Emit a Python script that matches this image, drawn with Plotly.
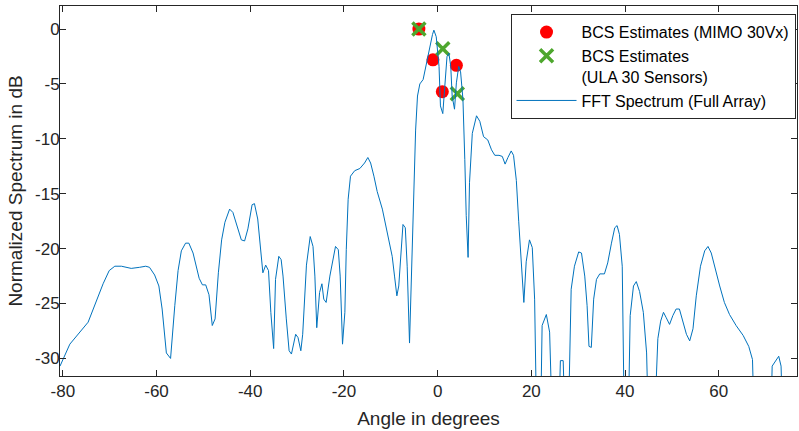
import plotly.graph_objects as go

# --- Data ---
# FFT spectrum of the full array (angle in degrees, normalized dB)
fft_angle = [
    -80.6, -78.5, -74.6, -73.1, -71.4, -70.1, -68.9, -67.5, -65.4, -63.6,
    -62.3, -61.5, -60.4, -59.5, -58.8, -57.9, -57.0, -56.1, -55.4, -54.7,
    -53.8, -53.1, -52.2, -50.9, -50.2, -49.5, -48.8, -48.1, -47.5, -46.8,
    -46.1, -45.4, -44.4, -43.7, -42.6, -41.9, -41.2, -40.5, -39.6, -39.1,
    -38.4, -37.8, -37.3, -36.7, -36.1, -35.6, -35.0, -34.6, -33.9, -33.4,
    -33.0, -32.3, -31.7, -31.2, -30.3, -29.8, -29.2, -28.8, -28.0, -27.2,
    -26.6, -26.2, -25.8, -25.2, -24.7, -24.3, -23.8, -23.0, -22.3, -21.8,
    -21.2, -20.8, -20.3, -19.8, -19.5, -19.1, -18.6, -17.7, -16.6, -15.6,
    -14.9, -14.3, -13.6, -12.9, -11.8, -11.1, -10.4, -9.7, -9.2, -8.7,
    -8.3, -7.7, -7.4, -6.9, -6.5, -6.0, -5.6, -5.1, -4.7, -4.3,
    -3.8, -3.1, -2.4, -1.7, -1.1, -0.8, -0.3, 0.3, 0.6, 1.1,
    1.5, 2.0, 2.4, 2.8, 3.1, 3.6, 4.0, 4.5, 4.9, 5.4,
    5.8, 6.1, 6.5, 6.8, 7.4, 8.3, 9.0, 9.8, 10.7, 11.5,
    12.2, 13.1, 13.8, 14.4, 15.0, 15.7, 16.2, 16.8, 17.3, 17.9,
    18.4, 18.9, 19.6, 20.2, 20.7, 21.2, 21.9, 22.3, 23.2, 23.9,
    24.6, 25.7, 26.2, 26.8, 27.3, 27.8, 28.5, 29.2, 30.1, 30.7,
    31.4, 31.9, 32.3, 32.8, 33.3, 33.9, 34.6, 35.6, 36.3, 37.1,
    37.8, 38.3, 38.8, 39.4, 39.9, 40.6, 41.1, 41.8, 42.4, 43.1,
    43.9, 44.6, 45.1, 46.1, 47.0, 47.6, 48.2, 48.8, 49.5, 50.2,
    50.9, 51.6, 52.3, 53.1, 53.8, 54.5, 55.2, 56.1, 57.0, 57.7,
    58.4, 59.1, 60.2, 61.2, 62.3, 63.7, 65.2, 66.4, 67.2, 67.7,
    71.0, 71.4, 72.1, 72.8, 73.3, 73.8, 76.7,
]
fft_db = [
    -30.7, -28.7, -26.7, -25.1, -23.2, -22.0, -21.6, -21.6, -21.8, -21.7,
    -21.6, -21.7, -22.4, -23.4, -25.5, -29.5, -30.0, -25.2, -22.0, -20.2,
    -19.5, -19.5, -20.4, -22.7, -23.3, -23.3, -24.2, -27.0, -26.4, -22.2,
    -19.2, -17.6, -16.4, -16.7, -18.1, -19.2, -19.3, -18.2, -16.0, -15.9,
    -17.3, -20.4, -22.2, -21.5, -22.0, -25.8, -29.1, -22.8, -20.7, -21.0,
    -22.5, -26.4, -29.3, -29.6, -27.8, -28.1, -29.3, -27.8, -21.5, -18.9,
    -19.8, -22.5, -27.2, -24.0, -23.2, -24.6, -24.9, -22.5, -20.7, -19.8,
    -20.1, -22.5, -28.7, -25.8, -20.1, -15.5, -13.4, -12.9, -12.7, -12.2,
    -11.7, -12.2, -13.4, -14.8, -16.4, -17.9, -19.5, -20.7, -22.5, -24.3,
    -23.4, -20.1, -17.8, -18.1, -21.6, -28.6, -23.1, -14.9, -9.2, -6.1,
    -5.0, -4.6, -3.1, -1.6, -0.5, -0.1, -0.7, -3.4, -7.0, -7.7,
    -4.9, -2.5, -2.2, -3.4, -6.1, -7.3, -4.9, -3.4, -3.9, -6.4,
    -11.9, -17.0, -20.8, -14.0, -9.5, -7.9, -8.4, -9.8, -10.1, -11.0,
    -11.5, -11.5, -11.6, -12.3, -11.7, -11.1, -11.5, -13.8, -17.5, -22.0,
    -24.9, -21.2, -19.2, -19.9, -24.6, -38.0, -38.0, -27.0, -26.0, -27.6,
    -38.0, -38.0, -30.2, -30.2, -38.0, -38.0, -23.7, -21.6, -20.3, -20.4,
    -22.5, -25.2, -28.9, -29.0, -24.6, -22.8, -22.3, -22.3, -21.3, -19.5,
    -18.1, -17.9, -18.7, -21.6, -38.0, -38.0, -26.1, -23.4, -23.0, -23.9,
    -25.8, -29.5, -38.0, -38.0, -28.2, -26.6, -25.8, -26.3, -26.9, -26.1,
    -25.5, -25.5, -26.6, -27.8, -28.4, -27.3, -24.3, -21.6, -20.2, -19.8,
    -20.4, -21.6, -23.4, -24.9, -26.0, -27.0, -27.9, -28.9, -30.1, -38.0,
    -38.0, -30.7, -30.3, -29.8, -30.7, -38.0, -40.0,
]

# BCS estimates
mimo_angle = [-4.0, -1.0, 1.0, 4.0]
mimo_db = [0.0, -2.8, -5.7, -3.3]
ula_angle = [-4.0, 1.1, 4.2]
ula_db = [0.0, -1.8, -5.9]

x_ticks = [-80, -60, -40, -20, 0, 20, 40, 60]
x_tick_labels = ["-80", "-60", "-40", "-20", "0", "20", "40", "60"]
y_ticks = [-30, -25, -20, -15, -10, -5, 0]
y_tick_labels = ["-30", "-25", "-20", "-15", "-10", "-5", "0"]

FONT = "Liberation Sans, Arial, sans-serif"
AX = "#262626"

# --- Figure ---
fig = go.Figure()
fig.add_trace(go.Scatter(
    x=mimo_angle, y=mimo_db, mode="markers",
    name="BCS Estimates (MIMO 30Vx)",
    marker=dict(symbol="circle", size=13, color="#FF0000"),
))
fig.add_trace(go.Scatter(
    x=ula_angle, y=ula_db, mode="markers",
    name="BCS Estimates<br>(ULA 30 Sensors)",
    marker=dict(symbol="x-thin-open", size=13, color="#4EA72E",
                line=dict(width=3.5, color="#4EA72E")),
))
fig.add_trace(go.Scatter(
    x=fft_angle, y=fft_db, mode="lines",
    name="FFT Spectrum (Full Array)",
    line=dict(color="#0072BD", width=1),
))

axis_common = dict(
    showline=True, linecolor=AX, linewidth=1, mirror="ticks",
    ticks="inside", ticklen=6, tickcolor=AX, tickwidth=1,
    showgrid=False, zeroline=False, automargin=False,
    tickfont=dict(family=FONT, size=17, color=AX),
)

fig.update_xaxes(
    range=[-80.6, 76.7], tickvals=x_ticks, ticktext=x_tick_labels,
    title=dict(text="Angle in degrees", font=dict(family=FONT, size=19, color=AX), standoff=11),
    **axis_common,
)
fig.update_yaxes(
    range=[-31.6, 2.1], tickvals=y_ticks, ticktext=y_tick_labels, ticklabelstandoff=-4,
    title=dict(text="Normalized Spectrum in dB", font=dict(family=FONT, size=19, color=AX), standoff=7),
    **axis_common,
)

fig.update_layout(
    width=799, height=431,
    margin=dict(l=60, r=2, t=6, b=55),
    plot_bgcolor="white", paper_bgcolor="white",
    font=dict(family=FONT, color=AX),
    legend=dict(
        x=0.998, y=0.978, xanchor="right", yanchor="top",
        bgcolor="white", bordercolor=AX, borderwidth=1,
        font=dict(family=FONT, size=16, color="black"),
        itemwidth=60, tracegroupgap=0, valign="top",
    ),
)

# page has a default 8px body margin; drop it so the figure sits at 0,0
fig.write_html("out.html", config={"displayModeBar": False},
               post_script="document.body.style.margin='0';")
